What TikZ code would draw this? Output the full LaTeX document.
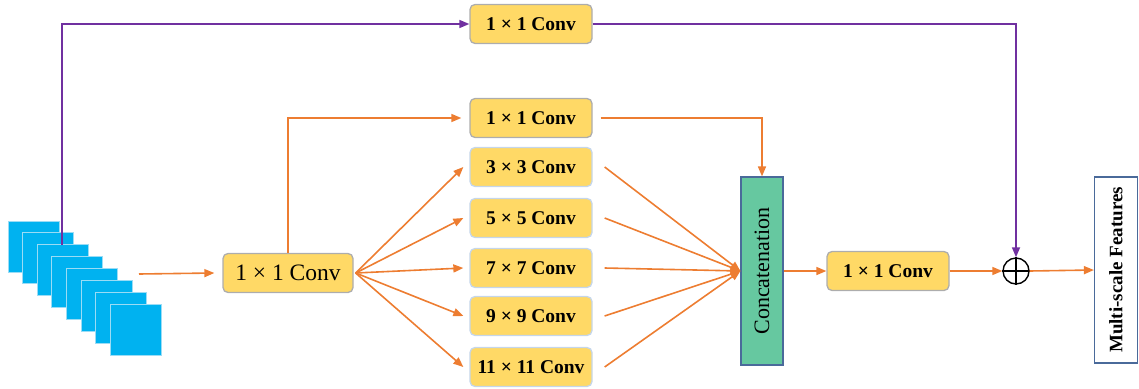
\documentclass[tikz,border=0pt]{standalone}
\usepackage{fontspec}
\setmainfont{Liberation Serif}
\usetikzlibrary{arrows.meta}
\definecolor{convfill}{HTML}{FFD966}
\definecolor{convgray}{HTML}{ADADAD}
\definecolor{convblue}{HTML}{C5D6EA}
\definecolor{flow}{HTML}{ED7D31}
\definecolor{skip}{HTML}{7030A0}
\definecolor{catfill}{HTML}{66C8A0}
\definecolor{catline}{HTML}{4A6A9A}
\definecolor{featfill}{HTML}{00B2F0}
\definecolor{featline}{HTML}{9BDCF5}
\begin{document}
\begin{tikzpicture}[x=1pt,y=-1pt,
  conv/.style={draw=convgray, fill=convfill, rounded corners=5pt, line width=1.3pt,
    minimum width=122pt, minimum height=39pt, inner sep=0pt,
    font=\bfseries\fontsize{19.5}{21}\selectfont},
  convb/.style={conv, draw=convblue},
  bigconv/.style={conv, minimum width=130pt, font=\fontsize{23.5}{25}\selectfont},
  flowarrow/.style={draw=flow, line width=1.6pt, -{Triangle[length=10pt,width=8pt]}},
  skiparrow/.style={draw=skip, line width=1.6pt, -{Triangle[length=10pt,width=8pt]}},
  featmap/.style={fill=featfill, draw=featline, line width=1pt}
]
\useasboundingbox (0,0) rectangle (1139,388);

% stack of input feature maps
\foreach \i in {0,...,7}{
  \path[featmap] (8+14.6*\i, 221+11.9*\i) rectangle ++(51,51);
}
\coordinate (fsTop) at (62,245);
\coordinate (fsOut) at (139,274);

% convolution blocks
\node[conv] (top) at (531,24) {1 × 1 Conv};
\node[bigconv] (entry) at (288,273) {1 × 1 Conv};
\node[conv] (b1) at (531,118) {1 × 1 Conv};
\node[convb] (b3) at (531,167) {3 × 3 Conv};
\node[convb] (b5) at (531,218) {5 × 5 Conv};
\node[convb] (b7) at (531,268) {7 × 7 Conv};
\node[convb] (b9) at (531,316) {9 × 9 Conv};
\node[convb] (b11) at (531,367) {11 × 11 Conv};

% concatenation bar
\node[draw=catline, fill=catfill, line width=1.2pt, minimum width=42pt, minimum height=188pt,
  inner sep=0pt] (cat) at (762,271) {};
\node[rotate=90, font=\fontsize{22}{24}\selectfont] at (cat.center) {Concatenation};

\node[conv] (fuse) at (888,271) {1 × 1 Conv};

% element-wise sum
\node[draw, circle, line width=1.4pt, minimum size=26pt, inner sep=0pt] (sum) at (1016,271) {};
\draw[line width=1.4pt] (sum.north) -- (sum.south) (sum.west) -- (sum.east);

% output
\node[draw=catline, line width=1.2pt, minimum width=43pt, minimum height=186pt,
  inner sep=0pt] (out) at (1116,270) {};
\node[rotate=90, font=\bfseries\fontsize{19}{21}\selectfont] at (out.center) {Multi-scale Features};

% skip path
\draw[skiparrow] (fsTop) |- (top.west);
\draw[skiparrow] (top.east) -| (sum.north);

% main path
\draw[flowarrow] (fsOut) -- ([xshift=-8pt]entry.west);
\draw[flowarrow] (entry.north) |- ([xshift=-8pt]b1.west);
\coordinate (fan) at ([xshift=2pt]entry.east);
\foreach \b in {b3,b5,b7,b9,b11}{
  \draw[flowarrow] (fan) -- ([xshift=-6pt]\b.west);
  \draw[flowarrow] ([xshift=12pt]\b.east) -- (cat.west);
}
\draw[flowarrow] ([xshift=8pt]b1.east) -| (cat.north);
\draw[flowarrow] (cat.east) -- (fuse.west);
\draw[flowarrow] (fuse.east) -- (sum.west);
\draw[flowarrow] (sum.east) -- (out.west);
\end{tikzpicture}
\end{document}
